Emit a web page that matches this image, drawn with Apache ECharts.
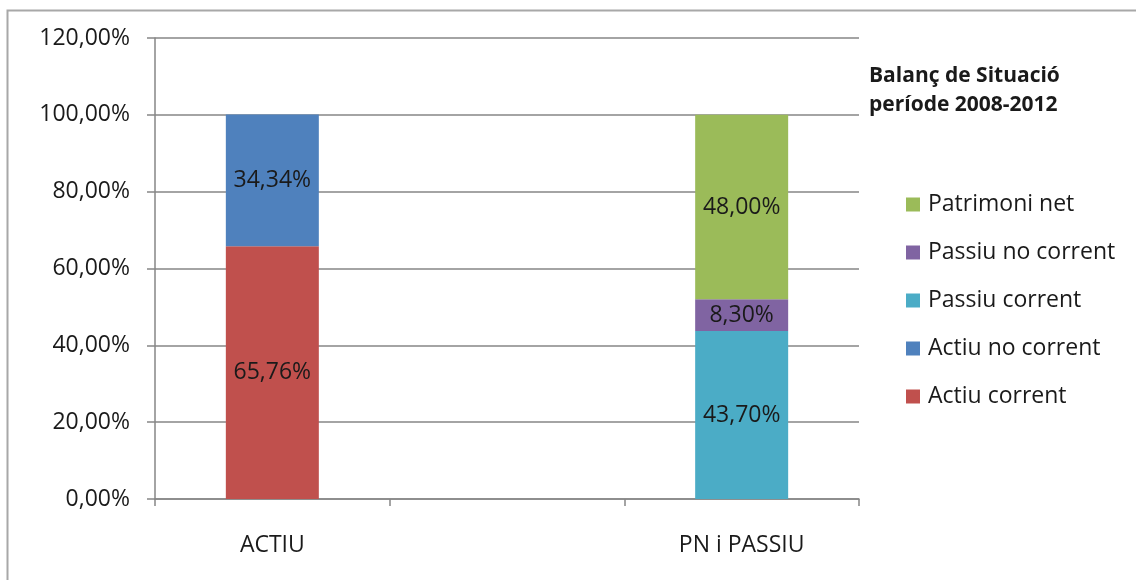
<!DOCTYPE html>
<html>
<head>
<meta charset="utf-8">
<script src="https://cdn.jsdelivr.net/npm/echarts@6/dist/echarts.min.js"></script>
<style>
  html, body { margin: 0; padding: 0; background: #fff; }
  #chart { width: 1136px; height: 580px; }
</style>
</head>
<body>
<div id="chart"></div>
<script>
var categories = ['ACTIU', '', 'PN i PASSIU'];
var seriesNames = ['Actiu corrent', 'Actiu no corrent', 'Passiu corrent', 'Passiu no corrent', 'Patrimoni net'];
var actiuCorrent = [65.76, null, null];
var actiuNoCorrent = [34.34, null, null];
var passiuCorrent = [null, null, 43.70];
var passiuNoCorrent = [null, null, 8.30];
var patrimoniNet = [null, null, 48.00];
var yTicks = [0, 20, 40, 60, 80, 100, 120];

var colors = ['#C0504D', '#4F81BD', '#4BACC6', '#8064A2', '#9BBB59'];
var values = [actiuCorrent, actiuNoCorrent, passiuCorrent, passiuNoCorrent, patrimoniNet];
var font = '"Open Sans", sans-serif';
var fs = 23;

function pct(v) {
    return v.toFixed(2).replace('.', ',') + '%';
}

var myChart = echarts.init(document.getElementById('chart'));
var option = {
    animation: false,
    color: colors,
    textStyle: { fontFamily: font },
    graphic: [{
        type: 'rect',
        shape: { x: 7.5, y: 10.5, width: 1300, height: 800 },
        style: { fill: 'none', stroke: '#a8a8a8', lineWidth: 2 },
        silent: true
    }, {
        type: 'text',
        left: 869,
        top: 62,
        style: {
            text: 'Balanç de Situació\nperíode 2008-2012',
            font: 'bold 21px ' + font,
            fill: '#1a1a1a',
            lineHeight: 29,
            textAlign: 'left'
        }
    }],
    legend: {
        orient: 'vertical',
        left: 901,
        top: 188,
        itemGap: 25,
        itemWidth: 14,
        itemHeight: 14,
        icon: 'rect',
        data: seriesNames.slice().reverse(),
        textStyle: { fontSize: fs, color: '#1a1a1a', fontFamily: font, padding: [0, 0, 0, 3] }
    },
    grid: {
        left: 155,
        right: 1136 - 859,
        top: 38,
        bottom: 580 - 499,
        containLabel: false
    },
    xAxis: {
        type: 'category',
        data: categories,
        axisLine: { lineStyle: { color: '#868686', width: 1.5 } },
        axisTick: { show: true, length: 7, lineStyle: { color: '#868686', width: 1.5 } },
        axisLabel: { color: '#1a1a1a', fontSize: fs, margin: 35, fontFamily: font }
    },
    yAxis: {
        type: 'value',
        min: 0,
        max: 120,
        interval: 20,
        axisLine: { show: true, lineStyle: { color: '#868686', width: 1.5 } },
        axisTick: { show: true, length: 8, lineStyle: { color: '#868686', width: 1.5 } },
        splitLine: { lineStyle: { color: '#868686', width: 1.5 } },
        axisLabel: {
            color: '#1a1a1a',
            fontSize: fs,
            margin: 25,
            fontFamily: font,
            formatter: function (v) { return yTicks.indexOf(v) >= 0 ? pct(v) : ''; }
        }
    },
    series: seriesNames.map(function (name, i) {
        return {
            name: name,
            type: 'bar',
            stack: 'total',
            barWidth: 93,
            data: values[i],
            label: {
                show: true,
                position: 'inside',
                color: '#1a1a1a',
                fontSize: fs,
                fontFamily: font,
                formatter: function (p) { return pct(p.value); }
            }
        };
    })
};
myChart.setOption(option);
</script>
</body>
</html>
